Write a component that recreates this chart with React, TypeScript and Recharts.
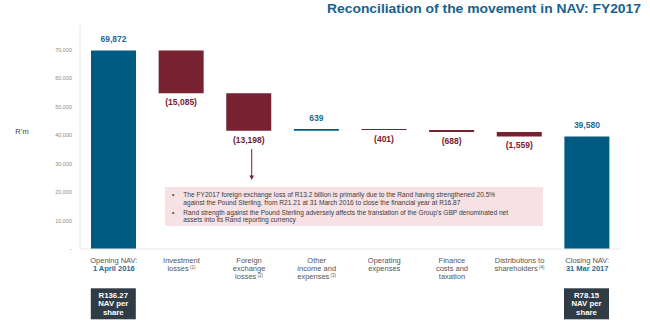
import React from 'react';
import { BarChart, Bar, XAxis, YAxis, Cell, LabelList } from 'recharts';

const categories = [
  'Opening NAV',
  'Investment losses',
  'Foreign exchange losses',
  'Other income and expenses',
  'Operating expenses',
  'Finance costs and taxation',
  'Distributions to shareholders',
  'Closing NAV',
];
const changes = [69872, -15085, -13198, 639, -401, -688, -1559, 39580];
const isTotal = [true, false, false, false, false, false, false, true];
const yTicks = [0, 10000, 20000, 30000, 40000, 50000, 60000, 70000];

// label lines: [text, superscript, emphasised]
const tickLines: Array<Array<[string, string, boolean]>> = [
  [['Opening NAV:', '', false], ['1 April 2016', '', true]],
  [['Investment', '', false], ['losses', '(1)', false]],
  [['Foreign', '', false], ['exchange', '', false], ['losses', '(2)', false]],
  [['Other', '', false], ['income and', '', false], ['expenses', '(3)', false]],
  [['Operating', '', false], ['expenses', '', false]],
  [['Finance', '', false], ['costs and', '', false], ['taxation', '', false]],
  [['Distributions to', '', false], ['shareholders', '(4)', false]],
  [['Closing NAV:', '', false], ['31 Mar 2017', '', true]],
];
const navPerShare = ['R136.27', 'R78.15'];
const noteLines = [
  'The FY2017 foreign exchange loss of R13.2 billion is primarily due to the Rand having strengthened 20.5%',
  'against the Pound Sterling, from R21.21 at 31 March 2016 to close the financial year at R16.87',
  'Rand strength against the Pound Sterling adversely affects the translation of the Group\u2019s GBP denominated net',
  'assets into its Rand reporting currency',
];

const BLUE = '#005b82';
const BLUE_TXT = '#1a6b96';
const MAROON = '#772131';
const FONT = '"Liberation Sans", Arial, Helvetica, sans-serif';

const data = (() => {
  let running = 0;
  return categories.map((name, i) => {
    const c = changes[i];
    let base: number;
    let value: number;
    if (isTotal[i]) {
      base = 0;
      value = c;
      running = c;
    } else if (c >= 0) {
      base = running;
      value = c;
      running += c;
    } else {
      running += c;
      base = running;
      value = -c;
    }
    return { name, base, value, change: c };
  });
})();

const fmt = (v: number) => {
  const s = Math.abs(v).toLocaleString('en-US');
  return v < 0 ? `(${s})` : s;
};

const renderValueLabel = (props: any) => {
  const { x, y, width, height, value } = props;
  const cx = Number(x) + Number(width) / 2;
  const v = Number(value);
  if (v >= 0) {
    return (
      <text x={cx} y={Number(y) - 8} textAnchor="middle" fontSize={8.5} fontWeight="bold" fill={BLUE_TXT} fontFamily={FONT}>
        {fmt(v)}
      </text>
    );
  }
  return (
    <text x={cx} y={Number(y) + Number(height) + 12} textAnchor="middle" fontSize={8.5} fontWeight="bold" fill={MAROON} fontFamily={FONT}>
      {fmt(v)}
    </text>
  );
};

const CategoryTick = (props: any) => {
  const { x, y, payload } = props;
  const idx = categories.indexOf(payload.value);
  const lines = tickLines[idx] || [];
  return (
    <g>
      {lines.map(([t, sup, em], k) => (
        <text
          key={k}
          x={x}
          y={Number(y) + 13.7 + k * 8.35}
          textAnchor="middle"
          fontSize={7.5}
          fontFamily={FONT}
          fill={em ? BLUE_TXT : '#555'}
          fontWeight={em ? 'bold' : 'normal'}
        >
          {t}
          {sup ? (
            <tspan fontSize={4.5} dy={-2.5}>
              {' ' + sup}
            </tspan>
          ) : null}
        </text>
      ))}
    </g>
  );
};

export default function App() {
  return (
    <div style={{ position: 'absolute', left: 0, top: 0, width: 650, height: 326, background: '#fff', fontFamily: FONT }}>
      <BarChart width={650} height={326} data={data} margin={{ top: 25, right: 29, bottom: 0, left: 0 }} barSize={45}>
        <XAxis
          dataKey="name"
          height={77}
          interval={0}
          tickLine={false}
          tickSize={0}
          tickMargin={0}
          axisLine={{ stroke: '#e8e8e8', strokeWidth: 1 }}
          tick={<CategoryTick />}
        />
        <YAxis
          width={80}
          domain={[0, 78800]}
          ticks={yTicks}
          interval={0}
          tickLine={false}
          tickSize={0}
          tickMargin={8}
          axisLine={{ stroke: '#e8e8e8', strokeWidth: 1 }}
          tick={{ fontSize: 5.5, fill: '#8a8a8a', fontFamily: FONT }}
          tickFormatter={(v: number) => (v === 0 ? '-' : v.toLocaleString('en-US'))}
        />
        <Bar dataKey="base" stackId="w" fill="transparent" isAnimationActive={false} />
        <Bar dataKey="value" stackId="w" isAnimationActive={false}>
          {data.map((d, i) => (
            <Cell key={i} fill={d.change >= 0 ? BLUE : MAROON} />
          ))}
          <LabelList dataKey="change" content={renderValueLabel} />
        </Bar>
      </BarChart>
      <svg width={650} height={326} style={{ position: 'absolute', left: 0, top: 0, pointerEvents: 'none' }}>
        <text x={641} y={12.5} textAnchor="end" fontSize={13.5} fontWeight="bold" fill="#17628c" fontFamily={FONT} textLength={314} lengthAdjust="spacingAndGlyphs">
          Reconciliation of the movement in NAV: FY2017
        </text>
        <text x={22} y={133.5} textAnchor="middle" fontSize={7.5} fill="#444" fontFamily={FONT}>
          R&#8217;m
        </text>
        <line x1={251.7} y1={149} x2={251.7} y2={176} stroke={MAROON} strokeWidth={1} />
        <polygon points="249.4,175.5 254,175.5 251.7,180" fill={MAROON} />
        <rect x={165} y={187} width={378} height={39} fill="#f6e1e5" />
        {noteLines.map((t, i) => (
          <text key={i} x={183.3} y={[197.4, 205.1, 214.7, 222.4][i]} fontSize={6.6} fill="#3c3c3c" fontFamily={FONT}>
            {t}
          </text>
        ))}
        <text x={172} y={197.4} fontSize={6.6} fill="#3c3c3c" fontFamily={FONT}>•</text>
        <text x={172} y={214.7} fontSize={6.6} fill="#3c3c3c" fontFamily={FONT}>•</text>
        {[113.3, 586.5].map((cx, i) => (
          <g key={i}>
            <rect x={cx - 22.5} y={288.3} width={45} height={31} fill="#2f3b45" />
            {[navPerShare[i], 'NAV per', 'share'].map((t, k) => (
              <text key={k} x={cx} y={297.7 + k * 8.5} textAnchor="middle" fontSize={7.8} fontWeight="bold" fill="#fff" fontFamily={FONT}>
                {t}
              </text>
            ))}
          </g>
        ))}
      </svg>
    </div>
  );
}
